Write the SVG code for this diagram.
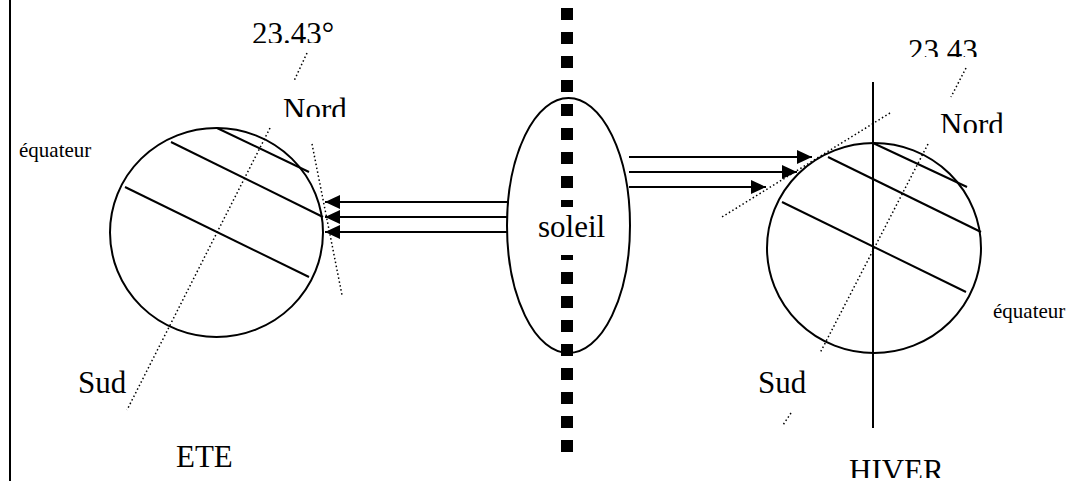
<svg xmlns="http://www.w3.org/2000/svg" width="1074" height="483" viewBox="0 0 1074 483">
<style>
.t{font-family:"Liberation Serif","Times New Roman",serif;font-size:31px;fill:#000}
.s{font-family:"Liberation Serif","Times New Roman",serif;font-size:21px;fill:#000}
.o{fill:none;stroke:#000;stroke-width:2}
.l{stroke:#000;stroke-width:2;fill:none}
.d{stroke:#000;stroke-width:1.5;stroke-dasharray:1.5 2.5;fill:none}
.a{stroke:#000;stroke-width:2;fill:none;marker-end:url(#ah)}
</style>
<defs>
<marker id="ah" markerUnits="userSpaceOnUse" markerWidth="16" markerHeight="15" refX="15" refY="7" orient="auto">
<path d="M0,0 L15,7 L0,14 z" fill="#000"/>
</marker>
<clipPath id="c1"><rect x="0" y="0" width="1074" height="43"/></clipPath>
<clipPath id="c2"><rect x="0" y="0" width="1074" height="117"/></clipPath>
<clipPath id="c3"><rect x="0" y="0" width="1074" height="57"/></clipPath>
<clipPath id="c4"><rect x="0" y="0" width="1074" height="133"/></clipPath>
<clipPath id="c5"><rect x="0" y="0" width="1074" height="478"/></clipPath>
</defs>
<rect width="1074" height="483" fill="#fff"/>
<line x1="10" y1="0" x2="10" y2="481" class="l"/>

<g id="soleil">
<ellipse cx="568.5" cy="225.5" rx="61.5" ry="127.5" class="o"/>
<line x1="567" y1="8" x2="567" y2="452" stroke="#000" stroke-width="12" stroke-dasharray="12 12"/>
<rect x="532" y="207" width="78" height="48" fill="#fff"/>
<text x="538" y="237" class="t">soleil</text>
</g>

<g id="earth-ete">
<ellipse cx="216.5" cy="232.5" rx="106.5" ry="104.5" class="o"/>
<line x1="217" y1="128" x2="309" y2="172" class="l"/>
<line x1="171" y1="142" x2="323" y2="217" class="l"/>
<line x1="125" y1="187" x2="309" y2="277" class="l"/>
<line x1="270" y1="128" x2="127" y2="410" class="d"/>
<line x1="307" y1="53" x2="294" y2="81" class="d"/>
<line x1="312" y1="144" x2="342" y2="295" class="d"/>
<text x="252" y="44" class="t" clip-path="url(#c1)">23.43°</text>
<text x="283" y="120" class="t" clip-path="url(#c2)">Nord</text>
<text x="19" y="157" class="s">équateur</text>
<text x="78" y="393" class="t">Sud</text>
<text x="176" y="467" class="t">ETE</text>
</g>

<g id="earth-hiver">
<ellipse cx="874" cy="248" rx="107" ry="105" class="o"/>
<line x1="873" y1="82" x2="873" y2="428" class="l"/>
<line x1="873" y1="143" x2="967" y2="187" class="l"/>
<line x1="828" y1="157" x2="981" y2="232" class="l"/>
<line x1="782" y1="202" x2="966" y2="292" class="l"/>
<line x1="928" y1="144" x2="820" y2="353" class="d"/>
<line x1="791" y1="413" x2="783" y2="425" class="d"/>
<line x1="966" y1="68" x2="951" y2="97" class="d"/>
<line x1="890" y1="113" x2="722" y2="217" class="d"/>
<text x="908" y="61" class="t" clip-path="url(#c3)">23.43</text>
<text x="940" y="135" class="t" clip-path="url(#c4)">Nord</text>
<text x="993" y="318" class="s">équateur</text>
<text x="758" y="393" class="t">Sud</text>
<text x="849" y="481" class="t" clip-path="url(#c5)">HIVER</text>
</g>

<g id="connectors">
<line x1="507" y1="202" x2="325" y2="202" class="a"/>
<line x1="507" y1="217" x2="325" y2="217" class="a"/>
<line x1="507" y1="232" x2="325" y2="232" class="a"/>
<line x1="629" y1="157" x2="812" y2="157" class="a"/>
<line x1="629" y1="172" x2="797" y2="172" class="a"/>
<line x1="629" y1="187" x2="766" y2="187" class="a"/>
</g>
</svg>
